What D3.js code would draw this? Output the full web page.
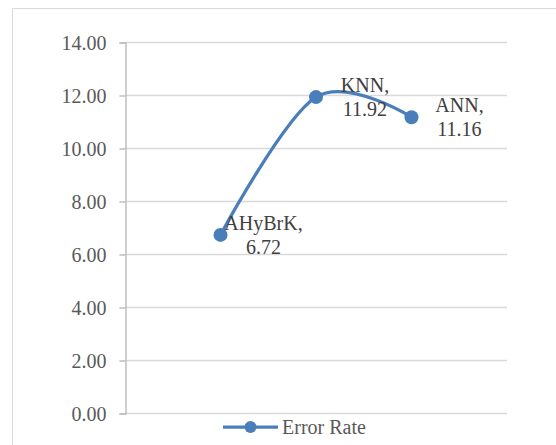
<!DOCTYPE html>
<html>
<head>
<meta charset="utf-8">
<script src="https://cdn.jsdelivr.net/npm/d3@7"></script>
<style>
  body { margin: 0; background: #fff; }
  svg text { font-family: "Liberation Serif", "Times New Roman", "DejaVu Serif", serif; }
</style>
</head>
<body>
<div id="chart"></div>
<script>
const categories = ["AHyBrK", "KNN", "ANN"]
const errorRate = [6.72, 11.92, 11.16]
const yTicks = [0, 2, 4, 6, 8, 10, 12, 14]
const seriesName = "Error Rate"

const W = 556, H = 445
const plotL = 125, plotR = 507, plotT = 42, plotB = 413
const blue = "#4a7ebb"
const serif = '"Liberation Serif", "Times New Roman", serif'

const svg = d3.select("#chart").append("svg")
  .attr("width", W)
  .attr("height", H)

// chart frame
svg.append("rect")
  .attr("x", 12.5).attr("y", 8.5)
  .attr("width", 600).attr("height", 500)
  .attr("fill", "#fff")
  .attr("stroke", "#d9d9d9")

const y = d3.scaleLinear().domain([0, 14]).range([plotB, plotT])
const x = d3.scalePoint().domain(categories).range([plotL, plotR]).padding(1)

// gridlines
svg.append("g").selectAll("line")
  .data(yTicks)
  .enter().append("line")
  .attr("x1", plotL).attr("x2", plotR)
  .attr("y1", d => y(d) + 0.5).attr("y2", d => y(d) + 0.5)
  .attr("stroke", "#d9d9d9").attr("stroke-width", 1.5)

// y axis
const yAxis = d3.axisLeft(y).tickValues(yTicks).tickFormat(d3.format(".2f")).tickSize(6).tickPadding(13)
const ga = svg.append("g").attr("transform", "translate(" + (plotL + 0.5) + ",0.5)").call(yAxis)
ga.attr("font-family", serif)
ga.select(".domain").attr("stroke", "#bfbfbf").attr("stroke-width", 1.5)
ga.selectAll(".tick line").attr("stroke", "#bfbfbf").attr("stroke-width", 1.5)
ga.selectAll(".tick text")
  .attr("fill", "#595959")
  .style("font-size", "20px")
  .attr("dy", "0.33em")

// line
const line = d3.line()
  .x((d, i) => x(categories[i]))
  .y(d => y(d))
  .curve(d3.curveCardinal.tension(0))

svg.append("path")
  .datum(errorRate)
  .attr("d", line)
  .attr("fill", "none")
  .attr("stroke", blue)
  .attr("stroke-width", 3.25)
  .attr("stroke-linecap", "round")

svg.append("g").selectAll("circle")
  .data(errorRate)
  .enter().append("circle")
  .attr("cx", (d, i) => x(categories[i]))
  .attr("cy", d => y(d))
  .attr("r", 7)
  .attr("fill", blue)

// data labels
const labelDx = [43, 49, 48]
const lbl = svg.append("g").selectAll("text")
  .data(errorRate)
  .enter().append("text")
  .attr("text-anchor", "middle")
  .attr("fill", "#404040")
  .style("font-size", "20px")

lbl.append("tspan")
  .attr("x", (d, i) => x(categories[i]) + labelDx[i])
  .attr("y", d => y(d) - 5)
  .text((d, i) => categories[i] + ",")

lbl.append("tspan")
  .attr("x", (d, i) => x(categories[i]) + labelDx[i])
  .attr("y", d => y(d) + 19)
  .text(d => d.toFixed(2))

// legend
const lg = svg.append("g").attr("transform", "translate(223,427)")
lg.append("line").attr("x1", 0).attr("x2", 55).attr("y1", 0).attr("y2", 0)
  .attr("stroke", blue).attr("stroke-width", 3.25)
lg.append("circle").attr("cx", 27.5).attr("cy", 0).attr("r", 6)
  .attr("fill", blue)
lg.append("text").attr("x", 59).attr("y", 7)
  .attr("fill", "#595959")
  .style("font-size", "20px")
  .text(seriesName)
</script>
</body>
</html>
